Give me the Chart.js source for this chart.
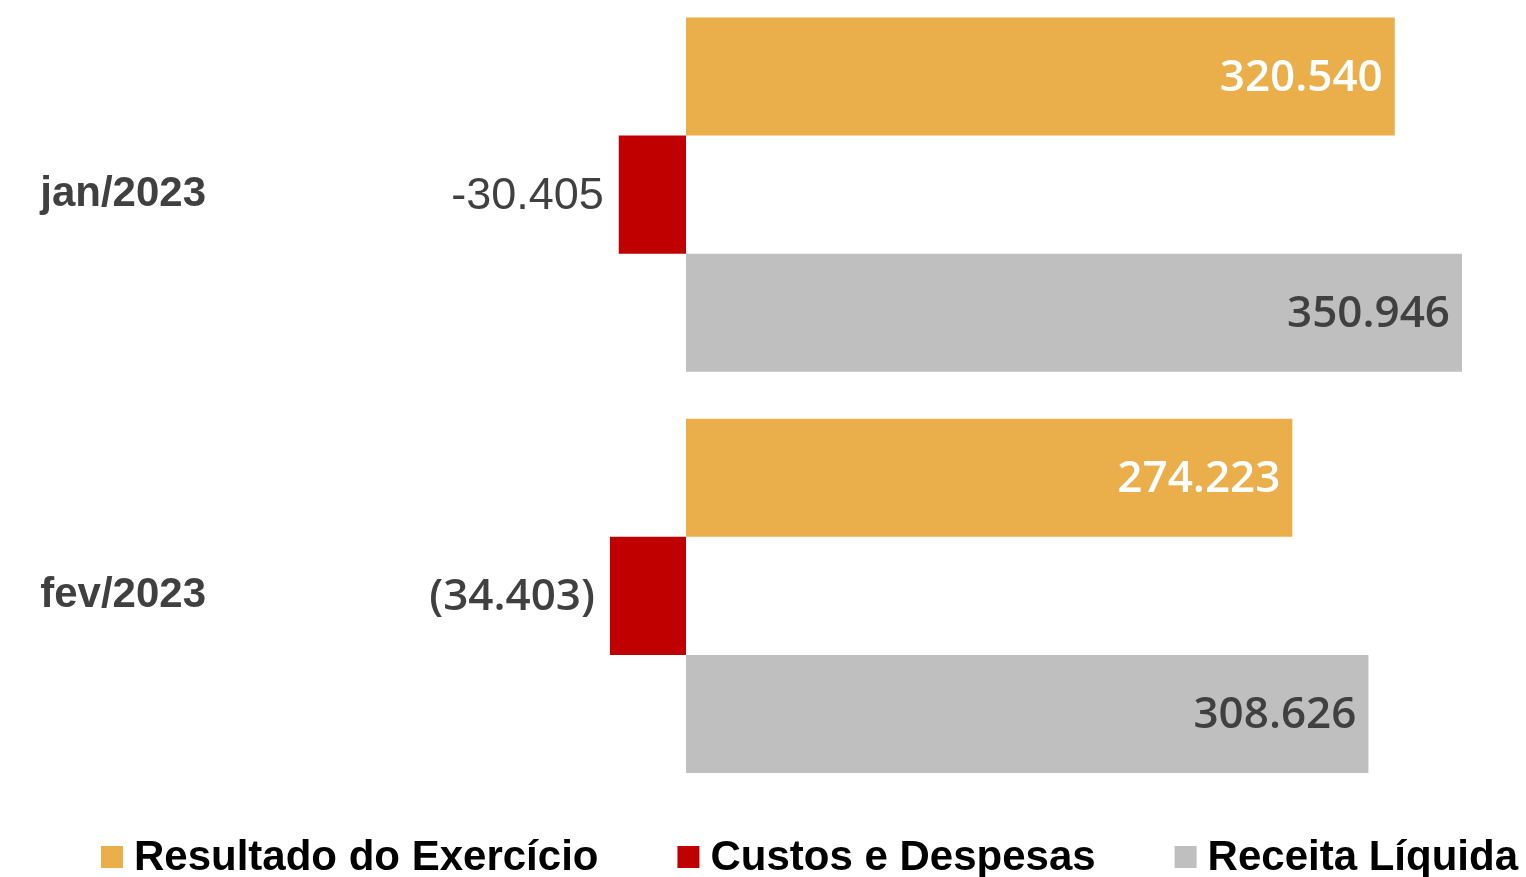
<!DOCTYPE html>
<html><head><meta charset="utf-8">
<script src="https://cdn.jsdelivr.net/npm/chart.js@4.4.0/dist/chart.umd.min.js"></script>
<style>html,body{margin:0;padding:0;background:#fff;overflow:hidden}#wrap{width:1526px;height:877px;position:relative;overflow:hidden}canvas{display:block;position:absolute;left:0;top:-6px}</style>
</head><body><div id="wrap"><canvas id="c" width="1526" height="883"></canvas></div>
<script>
// ---- data ----
const categories = ['jan/2023', 'fev/2023'];
const seriesNames = ['Resultado do Exercício', 'Custos e Despesas', 'Receita Líquida'];
const resultado = [320540, 274223];
const custos = [-30405, -34403];
const receita = [350946, 308626];
const custosLabels = ['-30.405', '(34.403)'];

function fmt(v) {
  return String(Math.abs(v)).replace(/\B(?=(\d{3})+(?!\d))/g, '.');
}

const valueFont = '600 44px "Open Sans", sans-serif';
const armFont = '45px "Liberation Sans", Arial, sans-serif';

const datasets = [
  { label: seriesNames[0], data: resultado, backgroundColor: '#EAAF4A',
    labelText: resultado.map(fmt), labelColor: '#FFFFFF', labelFonts: [valueFont, valueFont] },
  { label: seriesNames[1], data: custos, backgroundColor: '#C00000',
    labelText: custosLabels, labelColor: '#404040', labelFonts: [armFont, valueFont] },
  { label: seriesNames[2], data: receita, backgroundColor: '#BFBFBF',
    labelText: receita.map(fmt), labelColor: '#404040', labelFonts: [valueFont, valueFont] }
];
datasets.forEach(d => { d.categoryPercentage = 0.8828; d.barPercentage = 1.0; d.borderWidth = 0; });

const valueLabels = {
  id: 'valueLabels',
  afterDatasetsDraw(chart) {
    const ctx = chart.ctx;
    chart.data.datasets.forEach((ds, i) => {
      const meta = chart.getDatasetMeta(i);
      meta.data.forEach((bar, j) => {
        const v = ds.data[j];
        ctx.save();
        ctx.font = ds.labelFonts[j];
        ctx.fillStyle = ds.labelColor;
        ctx.textAlign = 'right';
        ctx.textBaseline = 'middle';
        const x = v >= 0 ? bar.x - 12 : bar.x - 15;
        ctx.fillText(ds.labelText[j], x, bar.y + 2);
        ctx.restore();
      });
    });
  }
};

const customLegend = {
  id: 'customLegend',
  afterDraw(chart) {
    const ctx = chart.ctx;
    const dss = chart.data.datasets;
    const oy = 6; // canvas is shifted up by 6px in the page
    ctx.save();
    ctx.font = 'bold 42px "Liberation Sans", Arial, sans-serif';
    const widths = dss.map(d => ctx.measureText(d.label).width);
    const startX = 101, endX = 1518, box = 22, textGap = 11;
    const sum = widths.reduce((a, b) => a + b, 0) + dss.length * (box + textGap);
    const gap = (endX - startX - sum) / (dss.length - 1);
    let x = startX;
    dss.forEach((d, i) => {
      ctx.fillStyle = d.backgroundColor;
      ctx.fillRect(x, 846 + oy, box, box);
      ctx.fillStyle = '#000000';
      ctx.textAlign = 'left';
      ctx.textBaseline = 'alphabetic';
      ctx.fillText(d.label, x + box + textGap, 870 + oy);
      x += box + textGap + widths[i] + gap;
    });
    ctx.restore();
  }
};

new Chart(document.getElementById('c'), {
  type: 'bar',
  data: { labels: categories, datasets },
  options: {
    indexAxis: 'y',
    responsive: false,
    animation: false,
    devicePixelRatio: 1,
    layout: { padding: { top: 0, bottom: 80.5, left: 0, right: 0 } },
    plugins: { legend: { display: false }, tooltip: { enabled: false } },
    scales: {
      x: { display: false, min: -206225, max: 379890 },
      y: {
        grid: { display: false, drawTicks: false, tickLength: 0 },
        border: { display: false },
        ticks: { padding: 24, color: '#404040',
          font: { family: '"Liberation Sans", Arial, sans-serif', size: 42, weight: 'bold' } },
        afterFit(s) { s.width = 230; s.paddingTop = 0; s.paddingBottom = 0; }
      }
    }
  },
  plugins: [valueLabels, customLegend]
});
</script>
</body></html>
